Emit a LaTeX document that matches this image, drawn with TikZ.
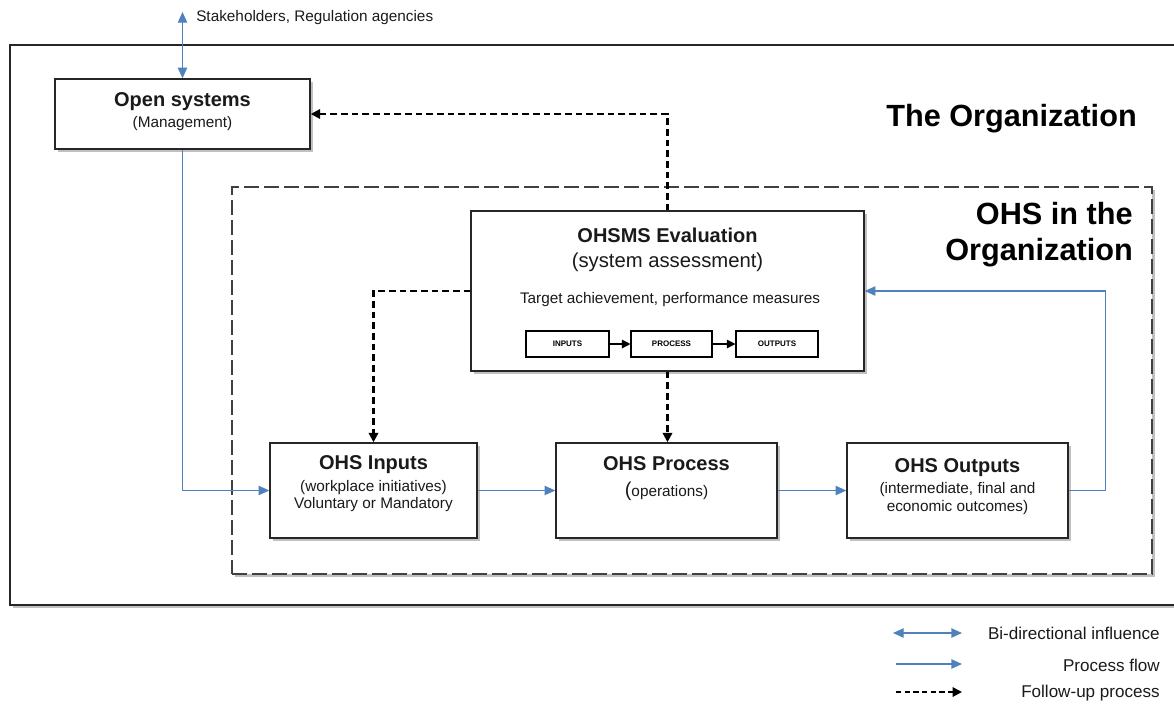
\documentclass[tikz,border=0pt]{standalone}
\usepackage{fontspec}
\setmainfont{Liberation Sans}
\usetikzlibrary{arrows.meta,shadows,fit,calc}
\definecolor{flowblue}{HTML}{4F81BD}
\definecolor{inktext}{HTML}{1A1A1A}
\begin{document}
\begin{tikzpicture}[x=0.75pt,y=-0.75pt,
  shade box/.style={drop shadow={shadow xshift=2pt,shadow yshift=-2.2pt,opacity=0.35,fill=black!70}},
  box/.style={draw=black!85,line width=1.1pt,fill=white,inner sep=0pt,shade box},
  smallbox/.style={draw=black,line width=0.8pt,fill=white,inner sep=0pt,
    font=\fontsize{6}{7}\selectfont\bfseries},
  txt/.style={inner sep=0pt,text=inktext},
  title/.style={txt,font=\fontsize{15}{18}\selectfont\bfseries},
  small/.style={txt,font=\fontsize{11.5}{14}\selectfont},
  big/.style={txt,font=\fontsize{23}{27}\selectfont\bfseries,text=black},
  legend/.style={txt,font=\fontsize{12.8}{15}\selectfont,anchor=east},
  flow/.style={draw=flowblue,line width=1pt,-{Triangle[length=8pt,width=7pt]}},
  bidir/.style={draw=flowblue,line width=1pt,{Triangle[length=8pt,width=7pt]}-{Triangle[length=8pt,width=7pt]}},
  follow/.style={draw=black,line width=1.7pt,dash pattern=on 5pt off 3pt,-{Triangle[length=7pt,width=7pt]}},
  tiny/.style={draw=black,line width=0.9pt,-{Triangle[length=6.5pt,width=6.5pt]}}
]
\useasboundingbox (0,0) rectangle (1174,704);

% frames: the organization and the OHS system inside it
\node[box,fit={(10,45) (1200,605)}] (org) {};
\node[box,draw=black!75,dash pattern=on 11pt off 4pt,fit={(232,187) (1152,574)}] (ohs) {};

\node[big,anchor=east] (orgtitle) at (1137,119) {The Organization};
\node[big,anchor=north east,align=right] (ohstitle) at (1133,202) {OHS in the\\Organization};

% management box and its outside link
\node[box,fit={(55,79) (310,149)}] (open) {};
\node[title] (opent) at (182.5,102) {Open systems};
\node[small] (opens) at (182.5,124) {(Management)};
\coordinate (stake) at (182.5,12);
\draw[bidir] (stake) -- (open.north);
\node[small,anchor=west] (stakel) at (196,18) {Stakeholders, Regulation agencies};

% evaluation box
\node[box,fit={(471,211) (864,371)}] (eval) {};
\node[title] (evalt) at (667.5,235) {OHSMS Evaluation};
\node[txt,font=\fontsize{15.2}{18}\selectfont] (evals) at (667.5,262) {(system assessment)};
\node[small] (evalm) at (670,300) {Target achievement, performance measures};
\node[smallbox,minimum width=62.25pt,minimum height=19.5pt] (sin) at (567.5,344) {INPUTS};
\node[smallbox,minimum width=60.75pt,minimum height=19.5pt] (spr) at (671.5,344) {PROCESS};
\node[smallbox,minimum width=61.5pt,minimum height=19.5pt] (sout) at (777,344) {OUTPUTS};
\draw[tiny] (sin) -- (spr);
\draw[tiny] (spr) -- (sout);

% process chain
\node[box,fit={(270,443) (477,538)}] (inputs) {};
\node[title] (inputst) at (373.5,465) {OHS Inputs};
\node[small] (inputs1) at (373.5,488) {(workplace initiatives)};
\node[small] (inputs2) at (373.5,505) {Voluntary or Mandatory};

\node[box,fit={(556,443) (777,538)}] (process) {};
\node[title] (processt) at (666.5,464) {OHS Process};
\node[small] (processs) at (666.5,491) {{\fontsize{15}{18}\selectfont(}operations)};

\node[box,fit={(847,443) (1068,538)}] (outputs) {};
\node[title] (outputst) at (957.5,468) {OHS Outputs};
\node[small] (outputs1) at (957.5,490) {(intermediate, final and};
\node[small] (outputs2) at (957.5,508) {economic outcomes)};

% process flow connectors
\draw[flow] (open.south) |- (inputs.west);
\draw[flow] (inputs.east) -- (process.west);
\draw[flow] (process.east) -- (outputs.west);
\draw[flow] (outputs.east) -- ++(37,0) |- (eval.east);

% follow-up connectors
\draw[follow] (eval.north) |- (open.east);
\draw[follow] (eval.west) -| (inputs.north);
\draw[follow] (eval.south) -- (eval.south |- process.north);

% legend
\coordinate (la1) at (893,633); \coordinate (lb1) at (962,633);
\coordinate (la2) at (896,664); \coordinate (lb2) at (962,664);
\coordinate (la3) at (896,692); \coordinate (lb3) at (962,692);
\draw[bidir] (la1) -- (lb1);
\draw[flow] (la2) -- (lb2);
\draw[follow,line width=1.4pt,dash pattern=on 4pt off 2.5pt] (la3) -- (lb3);
\node[legend] (lt1) at (1160,633) {Bi-directional influence};
\node[legend] (lt2) at (1160,665) {Process flow};
\node[legend] (lt3) at (1160,693) {Follow-up process};
\end{tikzpicture}
\end{document}
